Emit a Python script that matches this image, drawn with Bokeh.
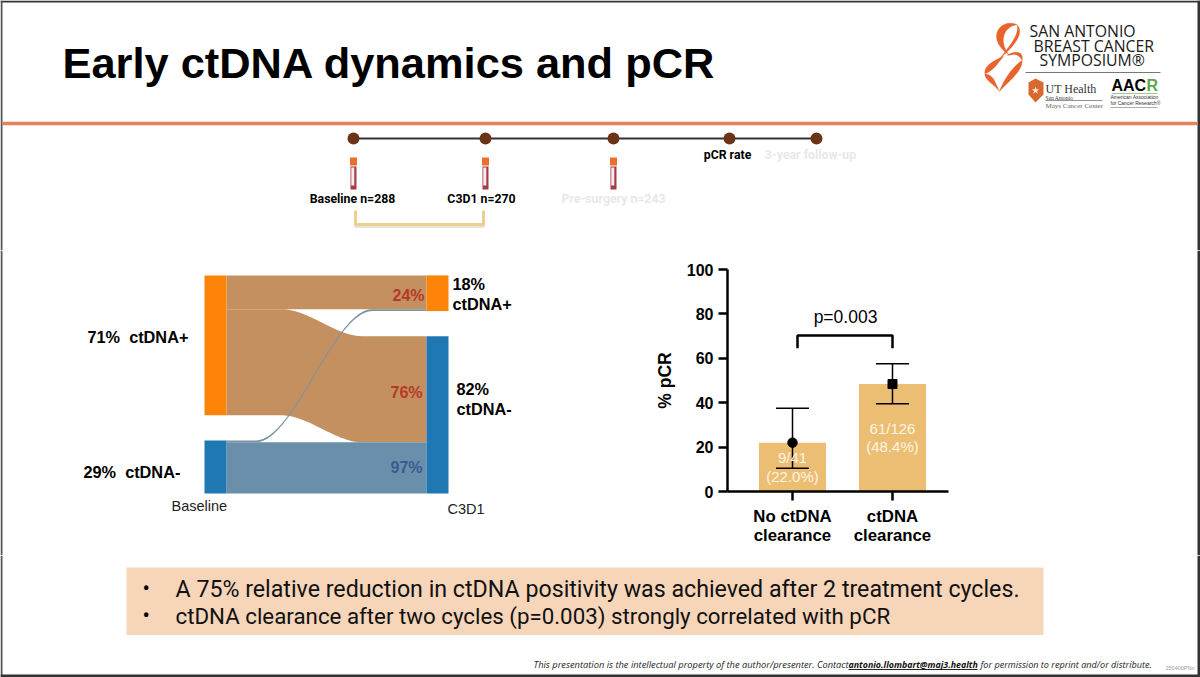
import numpy as np
from bokeh.plotting import figure
from bokeh.layouts import column, row
from bokeh.models import Range1d, FixedTicker
from bokeh.core.properties import value
from bokeh.embed import file_html
from bokeh.resources import INLINE

# ---------- data ----------
title = "Early ctDNA dynamics and pCR"
timeline_x = [353, 485, 613, 729, 816]
tube_x = [353, 485, 613]
timeline_labels = ["Baseline n=288", "C3D1 n=270", "Pre-surgery n=243", "pCR rate", "3-year follow-up"]

stay_pos = 17.5
pos_to_neg = 55.0
neg_to_pos = 1.0
stay_neg = 26.5
node_gap = 13.0

categories = ["No ctDNA\nclearance", "ctDNA\nclearance"]
pcr_pct = [22.0, 48.4]
pcr_low = [10.5, 39.5]
pcr_high = [37.5, 57.5]
pcr_text = ["9/41\n(22.0%)", "61/126\n(48.4%)"]
y_ticks = [0, 20, 40, 60, 80, 100]

bullets = ["A 75% relative reduction in ctDNA positivity was achieved after 2 treatment cycles.",
           "ctDNA clearance after two cycles (p=0.003) strongly correlated with pCR"]
bullet_sizes = [23.2, 22.3]

ARIAL = value("Liberation Sans")
SERIF = value("Liberation Serif")
ROBOTO = value("Roboto")
OPEN = value("Open Sans")
EDGE = "#333333"


def canvas(w, h, xr, yr):
    p = figure(width=w, height=h, x_range=Range1d(*xr), y_range=Range1d(*yr),
               toolbar_location=None, output_backend="svg", min_border=0,
               outline_line_color=None, background_fill_color="white")
    p.axis.visible = False
    p.grid.visible = False
    return p


def txt(p, x, y, s, size, color="black", font=ARIAL, style="normal", align="left", base="middle"):
    p.text(x=[x], y=[y], text=[s], text_font=font, text_font_size=f"{size}px",
           text_font_style=style, text_color=color, text_align=align, text_baseline=base,
           text_line_height=1.2)


def bez(p0, c0, c1, p1, n=40):
    t = np.linspace(0, 1, n)[:, None]
    a, b, c, d = map(np.array, (p0, c0, c1, p1))
    return (1-t)**3*a + 3*(1-t)**2*t*b + 3*(1-t)*t**2*c + t**3*d


def crescent(p, p0, c0a, c1a, p1, c0b, c1b, color):
    up = bez(p0, c0a, c1a, p1)
    dn = bez(p1, c1b, c0b, p0)
    pts = np.vstack([up, dn])
    p.patch(975 + pts[:, 0]/3, 15 + pts[:, 1]/3, fill_color=color, line_color=color, line_width=0.3)


# ---------- header ----------
top = canvas(1200, 250, (0, 1200), (250, 0))
top.line([0, 1200], [1, 1], line_color=EDGE, line_width=2)
top.line([1, 1], [0, 250], line_color="#555555", line_width=2)
top.line([1198.5, 1198.5], [0, 250], line_color=EDGE, line_width=3)
txt(top, 62, 62, title, 43.4, style="bold")
top.line([2, 1197], [123, 123], line_color="#E58058", line_width=3.5)

# logo
SW = "#E8642C"
crescent(top, (125, 28), (80, 5), (25, 65), (100, 118), (92, 30), (65, 70), SW)
crescent(top, (125, 28), (145, 50), (125, 85), (72, 130), (130, 55), (112, 80), SW)
crescent(top, (95, 120), (115, 105), (145, 105), (140, 135), (115, 118), (125, 110), SW)
crescent(top, (140, 135), (140, 170), (100, 195), (72, 228), (115, 150), (85, 190), SW)
crescent(top, (85, 122), (55, 135), (25, 150), (28, 175), (65, 145), (55, 165), SW)
crescent(top, (28, 175), (28, 195), (55, 205), (72, 228), (55, 178), (58, 200), SW)
LOGO = dict(size=15.8, color="#1a1a1a", font=OPEN)
txt(top, 1029, 30, "SAN ANTONIO", **LOGO)
txt(top, 1033, 45, "BREAST CANCER", **LOGO)
txt(top, 1039, 59, "SYMPOSIUM\u00ae", **LOGO)
top.line([1025, 1160], [72, 72], line_color="#777777", line_width=1)
top.patch([1028, 1035, 1043, 1043, 1035, 1028], [82, 78, 82, 94, 102, 94], fill_color="#D9682F", line_color=None)
top.scatter([1035], [90], marker="star", size=8, fill_color="#F8E8D8", line_color=None)
txt(top, 1045, 88, "UT Health", 12, color="#333333", font=SERIF)
txt(top, 1045, 97, "San Antonio", 5.5, color="#333333", font=SERIF)
top.line([1045, 1102], [100, 100], line_color="#777777", line_width=0.8)
txt(top, 1045, 105, "Mays Cancer Center", 7, color="#666666", font=SERIF)
txt(top, 1111, 85, "AAC", 16, style="bold")
txt(top, 1146, 85, "R", 16, color="#59A848", style="bold")
top.line([1111, 1157], [93, 93], line_color="#8DB87F", line_width=0.8)
txt(top, 1110, 96.5, "American Association", 5, color="#333333")
txt(top, 1110, 102, "for Cancer Research\u00ae", 5, color="#333333")
top.line([1110, 1157], [107, 107], line_color="#999999", line_width=0.8)

# timeline
top.line(timeline_x, [138]*5, line_color="#333333", line_width=2)
top.scatter(timeline_x, [138]*5, size=12, fill_color="#6B3317", line_color=None)
for tx in tube_x:
    top.rect([tx], [177.5], width=6, height=23, fill_color="#A83A46", line_color=None)
    top.rect([tx-0.7], [176], width=3, height=18, fill_color="#F3EDED", line_color=None)
    top.rect([tx], [161], width=7, height=8, fill_color="#E8702A", line_color=None)
LAB = dict(font=ROBOTO, style="bold", align="center")
txt(top, 352, 198, timeline_labels[0], 12.3, **LAB)
txt(top, 481, 198, timeline_labels[1], 12.3, **LAB)
txt(top, 613, 198, timeline_labels[2], 12.3, color="#E8E8E8", **LAB)
txt(top, 727, 154, timeline_labels[3], 12.3, **LAB)
txt(top, 810, 154, timeline_labels[4], 12.3, color="#E8E8E8", **LAB)
top.line([355, 355, 483, 483], [211, 226, 226, 211], line_color="#E8E4DA", line_width=3)
top.line([355, 355, 483, 483], [210, 224, 224, 210], line_color="#EBD08F", line_width=3)

# ---------- sankey ----------
PX = 1.93
Y0 = 493.0


def u(py):
    return (Y0 - py) / PX


sk = canvas(640, 305, (0, 640), (u(555), u(250)))
sk.line([1, 1], [u(555), u(250)], line_color="#555555", line_width=2)
left_neg = stay_neg + neg_to_pos
left_pos_lo = left_neg + node_gap
left_top = left_pos_lo + stay_pos + pos_to_neg
right_neg = stay_neg + pos_to_neg
right_pos_lo = right_neg + node_gap
LX0, LX1, RX0, RX1 = 204, 226, 426, 448
ORANGE, BLUE = "#FE8309", "#1F77B4"
LINK_O, LINK_B, LINK_T = "#C49060", "#6A8FAB", "#7C93A6"


def ribbon(y0a, y0b, y1a, y1b, xs, xe, color):
    x = np.linspace(LX1, RX0, 160)
    t = np.clip((x - xs) / (xe - xs), 0, 1)
    s = 3*t**2 - 2*t**3
    sk.varea(x, y0a + (y1a-y0a)*s, y0b + (y1b-y0b)*s, fill_color=color)


ribbon(left_top - stay_pos, left_top, right_pos_lo + neg_to_pos, right_pos_lo + neg_to_pos + stay_pos, LX1, LX1+1, LINK_O)
ribbon(left_pos_lo, left_top - stay_pos, right_neg - pos_to_neg, right_neg, 281, 362, LINK_O)
ribbon(0, stay_neg, 0, stay_neg, LX1, LX1+1, LINK_B)
ribbon(stay_neg, left_neg, right_pos_lo, right_pos_lo + neg_to_pos, 255, 372, LINK_T)
sk.quad(left=[LX0, LX0], right=[LX1, LX1], bottom=[left_pos_lo, 0], top=[left_top, left_neg],
        fill_color=[ORANGE, BLUE], line_color=None)
sk.quad(left=[RX0, RX0], right=[RX1, RX1], bottom=[right_pos_lo, 0], top=[left_top, right_neg],
        fill_color=[ORANGE, BLUE], line_color=None)
B = dict(size=16.3, style="bold")
NB = "\u00a0"
txt(sk, 87, u(336), f"71%{NB}{NB}ctDNA+", **B)
txt(sk, 83, u(471), f"29%{NB}{NB}ctDNA-", **B)
txt(sk, 452, u(283), "18%", **B)
txt(sk, 452, u(303), "ctDNA+", **B)
txt(sk, 456, u(388), "82%", **B)
txt(sk, 456, u(408), "ctDNA-", **B)
txt(sk, 424, u(295), "24%", 16, color="#B5392A", style="bold", align="right")
txt(sk, 422, u(392), "76%", 16, color="#B5392A", style="bold", align="right")
txt(sk, 422, u(467), "97%", 16, color="#3B5A92", style="bold", align="right")
txt(sk, 171, u(505), "Baseline", 14.5, color="#222222")
txt(sk, 447, u(508), "C3D1", 14.5, color="#222222")

# ---------- bar chart ----------
cx = [1, 2]
bar = figure(width=320, height=305, x_range=Range1d(0.35, 2.56), y_range=Range1d(0, 100),
             toolbar_location=None, output_backend="svg", outline_line_color=None,
             min_border_left=87, min_border_right=12, min_border_top=19, min_border_bottom=64)
bar.grid.visible = False
bar.vbar(x=cx, top=pcr_pct, width=0.67, fill_color="#ECBE73", line_color=None)
bar.segment(x0=cx, x1=cx, y0=pcr_low, y1=pcr_high, line_color="black", line_width=1.5)
for k in (pcr_low, pcr_high):
    bar.segment(x0=[c-0.165 for c in cx], x1=[c+0.165 for c in cx], y0=k, y1=k, line_color="black", line_width=1.5)
bar.scatter([cx[0]], [pcr_pct[0]], marker="circle", size=9.5, color="black")
bar.scatter([cx[1]], [pcr_pct[1]], marker="square", size=9, color="black")
bar.text(x=cx, y=[11.0, 24.3], text=pcr_text, text_font=ARIAL, text_font_size="15px", text_color="#FDF4E3",
         text_align="center", text_baseline="middle", text_line_height=1.1)
bar.line([1.05, 1.05, 2.0, 2.0], [64.5, 70.3, 70.3, 64.5], line_color="black", line_width=2.5)
bar.text(x=[1.53], y=[78.5], text=["p=0.003"], text_font=ARIAL, text_font_size="17.5px", text_align="center",
         text_baseline="middle", text_color="black")
ya, xa = bar.yaxis[0], bar.xaxis[0]
ya.ticker = FixedTicker(ticks=y_ticks)
xa.ticker = FixedTicker(ticks=cx)
xa.major_label_overrides = {c: s for c, s in zip(cx, categories)}
ya.axis_label = "% pCR"
ya.axis_label_text_font = "Liberation Sans"
ya.axis_label_text_font_size = "17.5px"
ya.axis_label_text_font_style = "bold"
ya.axis_label_text_color = "black"
ya.axis_label_standoff = 9
for a in (xa, ya):
    a.major_label_text_font = "Liberation Sans"
    a.major_label_text_font_size = "16px"
    a.major_label_text_font_style = "bold"
    a.major_label_text_color = "black"
    a.axis_line_width = 2.5
    a.axis_line_color = "black"
    a.major_tick_line_width = 2.5
    a.major_tick_line_color = "black"
    a.major_tick_out = 9
    a.major_tick_in = 0
    a.minor_tick_line_color = None
xa.major_label_text_font_size = "16.8px"
xa.major_label_text_line_height = 1.05
xa.major_label_standoff = 6
ya.major_label_standoff = 5

right = canvas(240, 305, (960, 1200), (555, 250))
right.line([1198.5, 1198.5], [250, 555], line_color=EDGE, line_width=3)

# ---------- bottom ----------
bt = canvas(1200, 122, (0, 1200), (677, 555))
bt.line([1, 1], [555, 677], line_color="#555555", line_width=2)
bt.line([1198.5, 1198.5], [555, 677], line_color=EDGE, line_width=3)
bt.line([0, 1200], [675.5, 675.5], line_color=EDGE, line_width=3)
bt.quad(left=[126], right=[1043], top=[567], bottom=[634.5], fill_color="#F6D5B9", line_color=None)
for yy, s, fs in zip([588, 615], bullets, bullet_sizes):
    txt(bt, 142, yy, "\u2022", 22, font=ROBOTO)
    txt(bt, 175, yy, s, fs, font=ROBOTO, color="#111111")
F = dict(size=9.3, style="italic", font=OPEN, color="#222222")
txt(bt, 533, 664, "This presentation is the intellectual property of the author/presenter. Contact", **F)
txt(bt, 848, 664, "antonio.llombart@maj3.health", size=8.85, style="bold italic", font=OPEN, color="#111111")
bt.line([848, 977], [669, 669], line_color="#222222", line_width=1)
txt(bt, 980, 664, "for permission to reprint and/or distribute.", size=9.1, style="italic", font=OPEN, color="#222222")
txt(bt, 1165, 667, "250400PNn", 5.5, color="#999999")

page = column(top, row(sk, column(bar), right), bt)
open("out.html", "w").write(file_html(page, INLINE))
